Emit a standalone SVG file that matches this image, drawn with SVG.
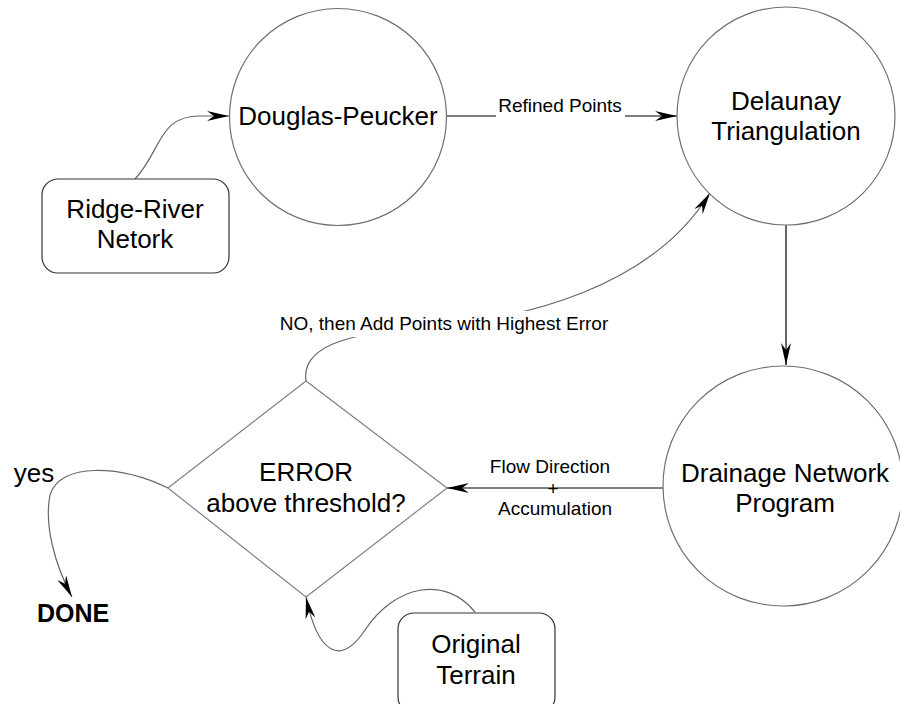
<svg xmlns="http://www.w3.org/2000/svg" width="900" height="704" viewBox="0 0 900 704">
<style>
.circ{fill:#fff;stroke:#707070;stroke-width:1.2}
.box{fill:#fff;stroke:#333;stroke-width:1.2}
.dia{fill:#fff;stroke:#808080;stroke-width:1.2}
.n{font-family:"Liberation Sans",Arial,sans-serif;font-size:26px;fill:#000;text-anchor:middle}
.l{font-family:"Liberation Sans",Arial,sans-serif;font-size:19px;fill:#000;text-anchor:middle}
.e{fill:none;stroke:#000;stroke-width:1.2}
.c{fill:none;stroke:#666;stroke-width:1.2}
</style>
<defs>
<marker id="arr" markerUnits="userSpaceOnUse" markerWidth="24" markerHeight="12" refX="22" refY="5" orient="auto" overflow="visible">
<path d="M0,0 L22,5 L0,10 L7,5 z" fill="#000"/>
</marker>
</defs>
<rect width="900" height="704" fill="#fff"/>
<g id="connectors">
<path class="c" d="M135,179 C162,150 158,116 200,116 L229,116" marker-end="url(#arr)"/>
<line class="e" x1="447" y1="116" x2="677" y2="116" marker-end="url(#arr)"/>
<line class="e" x1="786" y1="225" x2="786" y2="365" marker-end="url(#arr)"/>
<line class="e" x1="663" y1="488" x2="447" y2="488" marker-end="url(#arr)"/>
<path class="c" d="M306,381 C300,342 360,332 440,325 S650,290 710,193" marker-end="url(#arr)"/>
<path class="c" d="M168,488 C120,465 60,462 50,495 C44,525 55,565 72,597" marker-end="url(#arr)"/>
<path class="c" d="M475,612 C445,575 395,585 365,630 C341,666 318,655 306,597" marker-end="url(#arr)"/>
<rect x="496" y="97" width="129" height="20" fill="#fff"/>
<text class="l" x="560" y="112">Refined Points</text>
<rect x="276" y="311" width="338" height="26" fill="#fff"/>
<text class="l" x="444" y="330">NO, then Add Points with Highest Error</text>
<text class="l" x="550" y="473">Flow Direction</text>
<text class="l" x="553" y="495">+</text>
<text class="l" x="555" y="515">Accumulation</text>
</g>
<g id="ridge">
<rect class="box" x="42" y="179" width="187" height="94" rx="16"/>
<text class="n" x="135" y="218">Ridge-River</text>
<text class="n" x="135" y="248">Netork</text>
</g>
<g id="douglas">
<circle class="circ" cx="338" cy="117" r="108.5"/>
<text class="n" x="338" y="125">Douglas-Peucker</text>
</g>
<g id="delaunay">
<circle class="circ" cx="786" cy="116" r="109"/>
<text class="n" x="786" y="110">Delaunay</text>
<text class="n" x="786" y="140">Triangulation</text>
</g>
<g id="drainage">
<circle class="circ" cx="783" cy="486" r="120"/>
<text class="n" x="785" y="482">Drainage Network</text>
<text class="n" x="785" y="512">Program</text>
</g>
<g id="error">
<polygon class="dia" points="306,381 447,488 306,597 168,488"/>
<text class="n" x="306" y="481">ERROR</text>
<text class="n" x="306" y="512">above threshold?</text>
</g>
<g id="terrain">
<rect class="box" x="398" y="613" width="157" height="100" rx="16"/>
<text class="n" x="476" y="653">Original</text>
<text class="n" x="476" y="684">Terrain</text>
</g>
<g id="yes">
<text class="n" x="34" y="482">yes</text>
</g>
<g id="done">
<text class="n" x="73" y="622" style="font-weight:bold;font-size:25px">DONE</text>
</g>
</svg>
